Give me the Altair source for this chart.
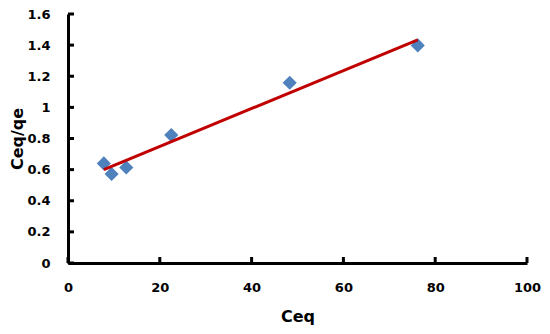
import altair as alt
import pandas as pd

# Data
ceq = [7.8, 9.5, 12.7, 22.5, 48.3, 76.2]
ceq_qe = [0.64, 0.572, 0.614, 0.822, 1.158, 1.398]

# Linear trendline endpoints (fit drawn in the figure)
fit_x = [7.8, 76.2]
fit_y = [0.600, 1.434]

x_ticks = [0, 20, 40, 60, 80, 100]
y_ticks = [0, 0.2, 0.4, 0.6, 0.8, 1.0, 1.2, 1.4, 1.6]

pts = pd.DataFrame({"Ceq": ceq, "Ceq/qe": ceq_qe})
fit = pd.DataFrame({"Ceq": fit_x, "Ceq/qe": fit_y})
xt = pd.DataFrame({"Ceq": x_ticks})
yt = pd.DataFrame({"Ceq/qe": y_ticks})

FONT = "DejaVu Sans"
W, H = 459, 249

xscale = alt.Scale(domain=[0, 100], nice=False, zero=True)
yscale = alt.Scale(domain=[0, 1.6], nice=False, zero=True)

xaxis = alt.Axis(
    values=x_ticks, labelExpr="datum.value", ticks=False, grid=False,
    domainColor="black", domainWidth=3, labelFont=FONT, labelFontSize=13,
    labelFontWeight="bold", labelColor="black", labelPadding=18,
    titleFont=FONT, titleFontSize=16, titleFontWeight="bold", titleColor="black",
    titlePadding=14, labelFlush=False,
)
yaxis = alt.Axis(
    values=y_ticks, labelExpr="datum.value", ticks=False, grid=False,
    domainColor="black", domainWidth=3, labelFont=FONT, labelFontSize=13,
    labelFontWeight="bold", labelColor="black", labelPadding=18,
    titleFont=FONT, titleFontSize=16, titleFontWeight="bold", titleColor="black",
    titlePadding=1, labelFlush=False,
)

X = lambda: alt.X("Ceq:Q", scale=xscale, axis=xaxis, title="Ceq")
Y = lambda: alt.Y("Ceq/qe:Q", scale=yscale, axis=yaxis, title="Ceq/qe")

points = alt.Chart(pts).mark_point(
    shape="diamond", filled=True, size=200, color="#4F81BD", opacity=1
).encode(x=X(), y=Y())

line = alt.Chart(fit).mark_line(color="#C00000", strokeWidth=3).encode(
    x=X(), y=Y()
)

xtick_marks = alt.Chart(xt).mark_rule(color="black", strokeWidth=3).encode(
    x=X(),
    y=alt.value(H),
    y2=alt.value(H - 6),
)

ytick_marks = alt.Chart(yt).mark_rule(color="black", strokeWidth=3).encode(
    y=Y(),
    x=alt.value(0),
    x2=alt.value(6),
)

chart = alt.layer(points, line, xtick_marks, ytick_marks).properties(
    width=W, height=H,
    autosize=alt.AutoSizeParams(type="none"),
    padding={"left": 60, "top": 6, "right": 15, "bottom": 62},
    background="white",
).configure_view(stroke=None)

chart.save("out.html", embed_options={"renderer": "svg", "actions": False})
